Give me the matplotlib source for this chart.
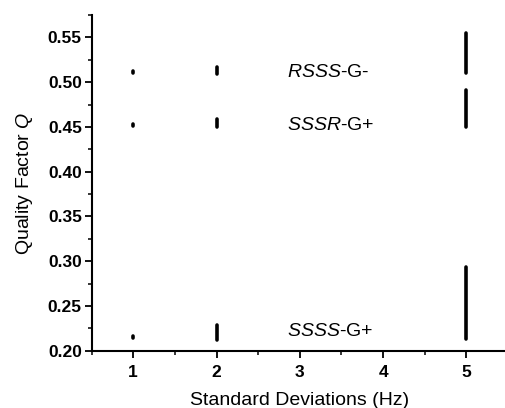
import matplotlib.pyplot as plt
from matplotlib.ticker import MultipleLocator

# standard deviations (Hz)
x_dev = [1, 2, 5]

# range of Q values at each deviation for each stereoisomer
rsss_low = [0.510, 0.509, 0.510]
rsss_high = [0.512, 0.517, 0.555]
sssr_low = [0.451, 0.450, 0.450]
sssr_high = [0.453, 0.459, 0.491]
ssss_low = [0.214, 0.212, 0.213]
ssss_high = [0.216, 0.229, 0.294]

labels = ["$\\it{RSSS}$-G-", "$\\it{SSSR}$-G+", "$\\it{SSSS}$-G+"]
label_y = [0.511, 0.452, 0.221]

plt.rcParams["font.family"] = ["Liberation Sans", "DejaVu Sans"]
plt.rcParams["mathtext.fontset"] = "custom"
plt.rcParams["mathtext.it"] = "Liberation Sans:italic"
plt.rcParams["mathtext.rm"] = "Liberation Sans"

fig = plt.figure(figsize=(5.06, 4.08), dpi=100)
ax = fig.add_axes([0.181, 0.1404, 0.823, 0.8226])

for lo, hi in [(rsss_low, rsss_high), (sssr_low, sssr_high), (ssss_low, ssss_high)]:
    for xi, a, b in zip(x_dev, lo, hi):
        ax.plot([xi, xi], [a, b], color="black", lw=2.6, solid_capstyle="round")

for txt, yy in zip(labels, label_y):
    ax.text(2.85, yy, txt, fontsize=14, va="center", ha="left")

ax.set_xlim(0.5, 5.5)
ax.set_ylim(0.20, 0.575)
ax.set_xticks([1, 2, 3, 4, 5])
ax.xaxis.set_minor_locator(MultipleLocator(0.5))
ax.set_yticks([0.20, 0.25, 0.30, 0.35, 0.40, 0.45, 0.50, 0.55])
ax.yaxis.set_minor_locator(MultipleLocator(0.025))
ax.set_yticklabels(["%.2f" % v for v in ax.get_yticks()])

for side in ["top", "right"]:
    ax.spines[side].set_visible(False)
for side in ["left", "bottom"]:
    ax.spines[side].set_linewidth(1.5)

ax.tick_params(which="major", direction="out", length=5, width=1.3, labelsize=12.5)
ax.tick_params(axis="y", which="major", pad=2)
ax.tick_params(axis="x", which="major", pad=5)
ax.tick_params(which="minor", direction="out", length=3, width=1.1)
for lab in ax.get_xticklabels() + ax.get_yticklabels():
    lab.set_fontweight("bold")

ax.set_xlabel("Standard Deviations (Hz)", fontsize=14, labelpad=9)
ax.set_ylabel("Quality Factor $\\it{Q}$", fontsize=14, labelpad=9)

plt.savefig("out.png", dpi=100)
